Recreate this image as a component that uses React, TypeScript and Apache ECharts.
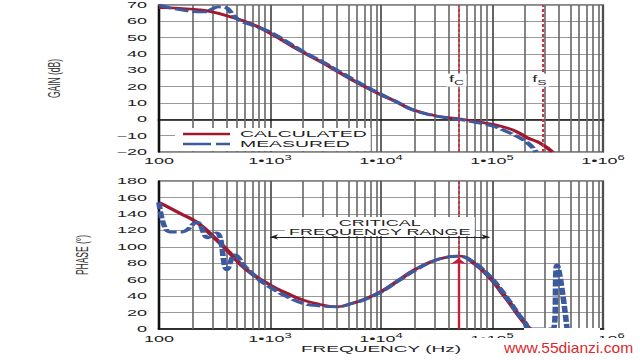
import React, { useEffect, useRef } from "react";
import * as echarts from "echarts";

// ---------- data ----------
const gainCalcFreq = [100, 190, 288, 436, 660, 1000, 1870, 3000, 4270, 6500, 10000, 14000, 18000, 23000, 29000, 38000, 50000, 70000, 100000, 137000, 175000, 210000, 270000, 350000];
const gainCalc = [68.3, 67.6, 66, 62.9, 58.8, 52.8, 42, 34.5, 28.5, 21.5, 15, 10.5, 6.7, 4.3, 2.6, 1.2, 0.3, -1.2, -3, -5.3, -8.3, -11.4, -14.5, -20];

const gainMeasFreq = [100, 130, 165, 200, 260, 300, 340, 400, 450, 520, 700, 1000, 1870, 3000, 4270, 6500, 10000, 14000, 18000, 23000, 29000, 38000, 50000, 70000, 100000, 137000, 180000, 220000, 250000];
const gainMeas = [70, 68, 66.8, 66, 65.8, 67.5, 68.8, 68.5, 65, 61, 57.5, 53.5, 42.5, 35, 29, 22, 15.3, 10.5, 6.7, 4.2, 2.4, 1, 0, -1.8, -4, -7.6, -11.5, -15.7, -20];

const phaseCalcFreq = [100, 155, 219, 306, 410, 620, 1000, 1420, 1980, 2800, 4000, 5600, 7000, 10000, 14000, 20000, 30000, 40000, 50000, 70000, 100000, 120000, 145000, 175000, 210000, 220000];
const phaseCalc = [154, 140.6, 129.7, 112.6, 96, 71.8, 53.5, 43.4, 35.3, 30, 27, 31.6, 36, 45.4, 58, 71.8, 83, 87.5, 88.8, 79, 59.6, 46, 31.6, 16, 2.8, 0];

const phaseMeasFreq = [100, 125, 160, 219, 276, 332, 410, 483, 595, 800, 1000, 1420, 2000, 2800, 4000, 5600, 7000, 10000, 14000, 20000, 30000, 40000, 50000, 70000, 100000, 120000, 145000, 175000, 200000, 215000, 355000, 385000, 475000];
const phaseMeas = [154, 118, 118, 130, 111, 117, 72, 90, 76, 60, 51, 39.4, 31, 28, 27, 31.5, 35.5, 45, 58, 71, 83, 87.5, 88.5, 80, 61, 48, 33, 17, 7, 0, 0, 78, 0];

const gainTicks = { min: -20, max: 70, step: 10 };
const phaseTicks = { min: 0, max: 180, step: 20 };
const minorFreqs = [2, 3, 4, 5, 6, 7, 8, 9].flatMap((m) => [1e2, 1e3, 1e4, 1e5].map((d) => m * d));
const fc = 50000;
const fs = 290000;
const criticalRange = [1000, 95000];
const criticalPhase = 112;
const fcPeak = 86;

const RED = "#a1192f";
const BLUE = "#3c5a9f";
const DASHRED = "#cc3347";
const FONT = '"Liberation Sans", Arial, sans-serif';

const zip = (xs: number[], ys: number[]) => xs.map((x, i) => [x, ys[i]]);

const xLabel = (v: number) => {
  const e = Math.round(Math.log10(v));
  return e === 2 ? "{b|100}" : `{b|1•10}{s|${e}}`;
};
const xRich = {
  b: { fontSize: 9, fontFamily: FONT, color: "#222", lineHeight: 11, verticalAlign: "bottom" },
  s: { fontSize: 6.5, fontFamily: FONT, color: "#222", lineHeight: 11, verticalAlign: "top", padding: [0, 0, 3, 0] },
};

const makeX = (gridIndex: number, extra: any = {}) => ({
  gridIndex,
  type: "log",
  logBase: 10,
  min: 100,
  max: 1e6,
  axisLine: { show: true, lineStyle: { color: "#111", width: 1.6 } },
  axisTick: { show: false },
  splitLine: { show: true, lineStyle: { color: "#555", width: 0.9 } },
  axisLabel: { formatter: xLabel, rich: xRich, margin: gridIndex === 0 ? 2 : 3 },
  ...extra,
});

const makeY = (gridIndex: number, t: any, name: string, gap: number) => ({
  gridIndex,
  type: "value",
  min: t.min,
  max: t.max,
  interval: t.step,
  name,
  nameLocation: "middle",
  nameRotate: 90,
  nameGap: gap,
  nameTextStyle: { fontSize: 8.5, fontFamily: FONT, color: "#333" },
  axisLine: { show: true, lineStyle: { color: "#111", width: 1.2 } },
  axisTick: { show: false },
  splitLine: { show: true, lineStyle: { color: "#9a9a9a", width: 1 } },
  axisLabel: {
    fontSize: 9,
    fontFamily: FONT,
    color: "#222",
    margin: 6,
    formatter: (v: number) => (v < 0 ? "\u2212" + -v : String(v)),
  },
});

const gridLines = (i: number) => ({
  name: "_grid" + i,
  type: "line",
  xAxisIndex: i,
  yAxisIndex: i,
  data: [],
  silent: true,
  z: 1,
  markLine: {
    silent: true,
    z: 1,
    symbol: ["none", "none"],
    label: { show: false },
    lineStyle: { color: "#666", width: 0.8, type: "solid" },
    emphasis: { disabled: true },
    data: minorFreqs.map((f) => ({ xAxis: f })),
  },
});

const fLabel = (sub: string) => ({
  show: true,
  position: "inside",
  formatter: `{f|f}{s|${sub}}`,
  rich: {
    f: { fontSize: 9, fontFamily: FONT, color: "#222", lineHeight: 12, verticalAlign: "top" },
    s: { fontSize: 7, fontFamily: FONT, color: "#222", lineHeight: 12, verticalAlign: "bottom", padding: [3, 0, 0, 0] },
  },
});

const calcLine = (i: number, xs: number[], ys: number[]) => ({
  name: "CALCULATED",
  type: "line",
  xAxisIndex: i,
  yAxisIndex: i,
  data: zip(xs, ys),
  symbol: "none",
  smooth: 0.5,
  z: 3,
  itemStyle: { color: RED },
  lineStyle: { color: RED, width: 2.6 },
});

const measLine = (i: number, xs: number[], ys: number[]) => ({
  name: "MEASURED",
  type: "line",
  xAxisIndex: i,
  yAxisIndex: i,
  data: zip(xs, ys),
  symbol: "none",
  smooth: 0.4,
  z: 4,
  itemStyle: { color: BLUE },
  lineStyle: { color: BLUE, width: 2.8, type: [7, 2] },
});

const option: any = {
  animation: false,
  backgroundColor: "#fff",
  textStyle: { fontFamily: FONT },
  grid: [
    { left: 79.5, right: 18.5, top: 5, height: 147, show: true, borderColor: "#111", borderWidth: 1.1 },
    { left: 79.5, right: 18.5, top: 181, height: 148, show: true, borderColor: "#111", borderWidth: 1.1 },
  ],
  xAxis: [
    makeX(0),
    makeX(1, {
      name: "FREQUENCY (Hz)",
      nameLocation: "middle",
      nameGap: 13,
      nameTextStyle: { fontSize: 9.5, fontFamily: FONT, color: "#222" },
    }),
  ],
  yAxis: [makeY(0, gainTicks, "GAIN (dB)", 48), makeY(1, phaseTicks, "PHASE (°)", 34)],
  legend: {
    left: 87.5,
    top: 128,
    orient: "vertical",
    itemWidth: 23.5,
    itemHeight: 2.5,
    itemGap: 0,
    padding: [1, 2, 2, 4],
    backgroundColor: "#fff",
    z: 20,
    selectedMode: false,
    textStyle: { fontSize: 9.7, color: "#222", lineHeight: 10, fontFamily: FONT },
    data: [
      { name: "CALCULATED", icon: "path://M0,0H23.5V2.5H0Z", itemStyle: { color: RED } },
      { name: "MEASURED", icon: "path://M0,0H14V2.5H0Z M16.5,0H23.5V2.5H16.5Z", itemStyle: { color: BLUE } },
    ],
  },
  series: [
    gridLines(0),
    gridLines(1),
    calcLine(0, gainCalcFreq, gainCalc),
    measLine(0, gainMeasFreq, gainMeas),
    calcLine(1, phaseCalcFreq, phaseCalc),
    measLine(1, phaseMeasFreq, phaseMeas),
    {
      name: "_annTop",
      type: "line",
      xAxisIndex: 0,
      yAxisIndex: 0,
      data: [],
      silent: true,
      markLine: {
        silent: true,
        symbol: ["none", "none"],
        label: { show: false },
        lineStyle: { color: DASHRED, width: 1, type: [3, 2] },
        data: [{ xAxis: fc }, { xAxis: fs }],
      },
      markPoint: {
        silent: true,
        symbol: "rect",
        symbolSize: [10, 13],
        itemStyle: { color: "#fff" },
        data: [
          { coord: [fc, 24], label: fLabel("C"), symbolOffset: [-1, 0] },
          { coord: [fs, 24], label: fLabel("S"), symbolOffset: [-2, 0] },
        ],
      },
    },
    {
      name: "_annBottom",
      type: "line",
      xAxisIndex: 1,
      yAxisIndex: 1,
      data: [],
      silent: true,
      markLine: {
        silent: true,
        symbol: ["none", "none"],
        symbolSize: 5,
        label: { show: false },
        lineStyle: { color: DASHRED, width: 1, type: [3, 2] },
        data: [
          { xAxis: fc },
          [
            { coord: [fc, 0], symbol: "none", lineStyle: { color: "#c41e3a", width: 1.2, type: "solid" } },
            { coord: [fc, fcPeak], symbol: "arrow", symbolSize: 6 },
          ],
          [
            {
              coord: [criticalRange[0], criticalPhase],
              symbol: "arrow",
              symbolSize: 4,
              lineStyle: { color: "#222", width: 0.8, type: "solid" },
              label: {
                show: true,
                position: "middle",
                formatter: "CRITICAL\nFREQUENCY RANGE",
                fontSize: 9,
                lineHeight: 9,
                color: "#222",
                fontFamily: FONT,
                backgroundColor: "#fff",
                padding: [1, 2, 0, 2],
                distance: 1,
              },
            },
            { coord: [criticalRange[1], criticalPhase], symbol: "arrow", symbolSize: 4 },
          ],
        ],
      },
    },
  ],
  graphic: [
    { type: "rect", z: 100, shape: { x: 231, y: 338, width: 89, height: 22 }, style: { fill: "#fff" } },
    { type: "rect", z: 100, shape: { x: 262, y: 328, width: 38, height: 11 }, style: { fill: "#fff" } },
    {
      type: "text",
      z: 101,
      x: 252,
      y: 348,
      scaleX: 0.52,
      style: { text: "www.55dianzi.com", font: '15px "Liberation Sans", Arial, sans-serif', fill: "#d92a2e", verticalAlign: "middle" },
    },
  ],
};

export default function App() {
  const ref = useRef<HTMLDivElement>(null);
  useEffect(() => {
    const chart = echarts.init(ref.current!, null, { renderer: "svg" });
    chart.setOption(option);
    return () => chart.dispose();
  }, []);
  return (
    <div style={{ position: "fixed", left: 0, top: 0, width: 640, height: 360, overflow: "hidden", background: "#fff" }}>
      <div ref={ref} style={{ width: 320, height: 360, transform: "scaleX(2)", transformOrigin: "0 0" }} />
    </div>
  );
}
